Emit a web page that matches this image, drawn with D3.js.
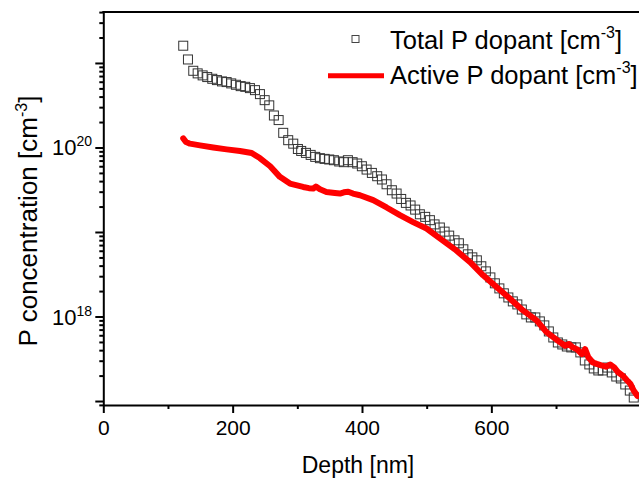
<!DOCTYPE html>
<html>
<head>
<meta charset="utf-8">
<script src="https://cdn.jsdelivr.net/npm/d3@7"></script>
<style>
  body { margin: 0; background: #fff; }
  svg { display: block; font-family: "Liberation Sans", Arial, Helvetica, sans-serif; }
</style>
</head>
<body>
<svg id="chart" width="639" height="482"></svg>
<script>

// total P (squares), depth in nm, concentration in cm^-3
var depthTotal = [123.6, 130.9, 139.1, 145.9, 153.6, 160.7, 168.5, 175.7, 183.5, 190.7,
  197.8, 205.1, 212.4, 219.5, 226.7, 234.5, 242.2, 249.5, 256.6, 263.8,
  271.1, 278.2, 285.9, 293.7, 300.9, 306.0, 313.3, 320.6, 327.7, 334.9,
  342.2, 349.3, 356.6, 364.8, 372.0, 378.2, 385.5, 392.6, 399.8, 407.1,
  415.3, 423.5, 430.8, 438.0, 446.2, 453.5, 460.6, 467.9, 475.1, 482.2,
  489.5, 497.7, 505.0, 512.2, 520.4, 527.7, 534.8, 543.1, 549.8, 556.7,
  563.7, 570.6, 577.6, 584.5, 591.5, 598.5, 605.4, 612.4, 619.3, 626.3,
  633.2, 640.2, 647.1, 654.1, 661.1, 668.0, 675.0, 681.9, 688.9, 695.8,
  702.8, 709.7, 716.7, 723.6, 730.6, 737.6, 744.5, 751.5, 758.4, 765.4,
  772.3, 779.3, 786.2, 793.2, 800.2, 807.1, 814.1, 820.2];
var totalP = [1.60e21, 1.10e21, 8.08e20, 7.53e20, 7.13e20, 6.81e20, 6.50e20, 6.27e20, 6.05e20, 5.94e20,
  5.73e20, 5.52e20, 5.32e20, 5.22e20, 5.04e20, 4.77e20, 4.28e20, 3.63e20, 3.15e20, 2.39e20,
  2.11e20, 1.49e20, 1.22e20, 1.11e20, 9.6e19, 9.1e19, 8.63e19, 8.17e19, 7.74e19, 7.47e19,
  7.33e19, 7.21e19, 7.07e19, 6.83e19, 6.70e19, 7.07e19, 6.70e19, 6.46e19, 6.00e19, 5.48e19,
  5.00e19, 4.57e19, 4.18e19, 3.67e19, 3.12e19, 2.85e19, 2.46e19, 2.21e19, 2.06e19, 1.84e19,
  1.62e19, 1.51e19, 1.38e19, 1.23e19, 1.13e19, 1.01e19, 9.06e18, 7.97e18, 7.35e18, 6.24e18,
  5.44e18, 5.01e18, 4.62e18, 3.93e18, 3.42e18, 2.90e18, 2.47e18, 2.15e18, 1.88e18, 1.68e18,
  1.51e18, 1.39e18, 1.21e18, 1.06e18, 9.75e17, 9.75e17, 8.75e17, 7.85e17, 6.66e17, 5.65e17,
  4.93e17, 4.67e17, 4.42e17, 4.31e17, 4.31e17, 3.76e17, 3.02e17, 2.71e17, 2.43e17, 2.30e17,
  2.30e17, 2.49e17, 2.18e17, 1.95e17, 1.85e17, 1.57e17, 1.33e17, 1.10e17];

// active P (red line)
var depthActive = [123.6, 128, 134, 149.5, 170, 190.7, 211.3, 229.4, 242, 258, 273,
  288.6, 309, 318, 324.6, 328.7, 335, 345, 358, 366, 372, 378.7, 386, 396.8, 417.3, 438,
  458.6, 479, 499.8, 520.4, 543.6, 566.8, 587.3, 608, 628.6, 649,
  669.9, 685.3, 705.9, 714, 720, 726, 733, 740, 745, 750,
  757, 763, 770, 777, 784, 790, 796, 803, 810, 815, 820, 826];
var activeP = [1.28e20, 1.16e20, 1.11e20, 1.06e20, 1.0e20, 9.5e19, 9.1e19, 8.6e19, 7.5e19, 6.0e19, 4.49e19,
  3.74e19, 3.41e19, 3.3e19, 3.27e19, 3.45e19, 3.2e19, 2.98e19, 2.9e19, 2.85e19, 2.95e19, 3.0e19, 2.85e19, 2.72e19, 2.38e19, 1.95e19,
  1.58e19, 1.31e19, 1.10e19, 8.42e18, 6.24e18, 4.42e18, 3.07e18, 2.23e18, 1.63e18, 1.18e18,
  9.0e17, 6.53e17, 4.98e17, 4.5e17, 4.73e17, 4.31e17, 4.07e17, 3.6e17, 4.1e17, 3.29e17,
  2.86e17, 2.75e17, 2.64e17, 2.55e17, 2.7e17, 2.5e17, 2.19e17, 2.0e17, 1.75e17, 1.6e17, 1.33e17, 1.15e17];

var xTicks = [0, 200, 400, 600];
var xMinor = [100, 300, 500, 700];
var yLabelExp = [18, 20];
var legendLabels = ["Total P dopant [cm", "Active P dopant [cm"];

var margin = {left: 103.3, right: 639, top: 12, bottom: 405};

var svg = d3.select("#chart");

var x = d3.scaleLinear().domain([0, 828.3]).range([margin.left, margin.right]);
var y = d3.scaleLog().domain([Math.pow(10, 16.953), Math.pow(10, 21.603)]).range([margin.bottom, margin.top]);

svg.append("defs").append("clipPath").attr("id", "clip")
  .append("rect")
  .attr("x", margin.left).attr("y", margin.top)
  .attr("width", margin.right - margin.left).attr("height", margin.bottom - margin.top);

// decade and minor ticks for the log axis
var majors = [1e17, 1e18, 1e19, 1e20, 1e21];
var minors = [];
[1e16, 1e17, 1e18, 1e19, 1e20, 1e21].forEach(function(dec) {
  for (var k = 2; k <= 9; k++) {
    var v = dec * k;
    if (v > y.domain()[0] && v < y.domain()[1]) minors.push(v);
  }
});

// data first, axes on top
var plot = svg.append("g").attr("clip-path", "url(#clip)");

plot.selectAll("rect.total")
  .data(depthTotal)
  .enter()
  .append("rect")
  .attr("class", "total")
  .attr("x", function(d) { return x(d) - 4.5; })
  .attr("y", function(d, i) { return y(totalP[i]) - 4.5; })
  .attr("width", 9)
  .attr("height", 9)
  .attr("fill", "none")
  .attr("stroke", "#333")
  .attr("stroke-width", 1);

var line = d3.line()
  .x(function(d) { return x(d); })
  .y(function(d, i) { return y(activeP[i]); });

plot.append("path")
  .datum(depthActive)
  .attr("d", line)
  .attr("fill", "none")
  .attr("stroke", "#ff0000")
  .attr("stroke-width", 6)
  .attr("stroke-linejoin", "round")
  .attr("stroke-linecap", "round");

// x axis
var gx = svg.append("g")
  .attr("class", "x axis")
  .attr("transform", "translate(0," + margin.bottom + ")")
  .call(d3.axisBottom(x).tickValues(xTicks).tickSize(8).tickSizeOuter(0).tickPadding(7));

svg.append("g")
  .attr("transform", "translate(0," + margin.bottom + ")")
  .call(d3.axisBottom(x).tickValues(xMinor).tickSize(4).tickSizeOuter(0).tickFormat(""))
  .select(".domain").remove();

gx.selectAll("text").attr("font-size", 21).attr("font-family", null).attr("fill", "#000");

// y axis
svg.append("g")
  .attr("class", "y axis")
  .attr("transform", "translate(" + margin.left + ",0)")
  .call(d3.axisLeft(y).tickValues(majors).tickSize(8).tickSizeOuter(0).tickFormat(""));

svg.append("g")
  .attr("transform", "translate(" + margin.left + ",0)")
  .call(d3.axisLeft(y).tickValues(minors).tickSize(4).tickSizeOuter(0).tickFormat(""))
  .select(".domain").remove();

svg.selectAll(".tick line").attr("stroke", "#000").attr("stroke-width", 2);
svg.selectAll(".domain").attr("stroke", "#000").attr("stroke-width", 2);

// top border
svg.append("line")
  .attr("x1", margin.left - 1).attr("x2", margin.right)
  .attr("y1", margin.top).attr("y2", margin.top)
  .attr("stroke", "#000").attr("stroke-width", 2);

var ylab = svg.selectAll("text.ylab")
  .data(yLabelExp)
  .enter()
  .append("text")
  .attr("class", "ylab")
  .attr("x", 52)
  .attr("y", function(d) { return y(Math.pow(10, d)) + 8; })
  .attr("font-size", 22);
ylab.append("tspan").text("10");
ylab.append("tspan").attr("dy", -9).attr("font-size", 14).text(function(d) { return d; });

// axis titles
svg.append("text")
  .attr("x", 358).attr("y", 473)
  .attr("text-anchor", "middle")
  .attr("font-size", 23)
  .text("Depth [nm]");

var yt = svg.append("text")
  .attr("transform", "translate(37,221) rotate(-90)")
  .attr("text-anchor", "middle")
  .attr("font-size", 26);
yt.append("tspan").text("P concentration [cm");
yt.append("tspan").attr("dy", -10).attr("font-size", 16).text("-3");
yt.append("tspan").attr("dy", 10).text("]");

// legend
var leg = svg.append("g");
leg.append("rect")
  .attr("x", 352).attr("y", 35.5).attr("width", 7).attr("height", 7)
  .attr("fill", "none").attr("stroke", "#444").attr("stroke-width", 1);
leg.append("line")
  .attr("x1", 328).attr("x2", 384).attr("y1", 75.7).attr("y2", 75.7)
  .attr("stroke", "#ff0000").attr("stroke-width", 5);

leg.selectAll("text")
  .data(legendLabels)
  .enter()
  .append("text")
  .attr("x", 390)
  .attr("y", function(d, i) { return 48.5 + i * 35; })
  .attr("font-size", 25.5)
  .each(function(d) {
    var t = d3.select(this);
    t.append("tspan").text(d);
    t.append("tspan").attr("dy", -11).attr("font-size", 16).text("-3");
    t.append("tspan").attr("dy", 11).text("]");
  });

</script>
</body>
</html>
